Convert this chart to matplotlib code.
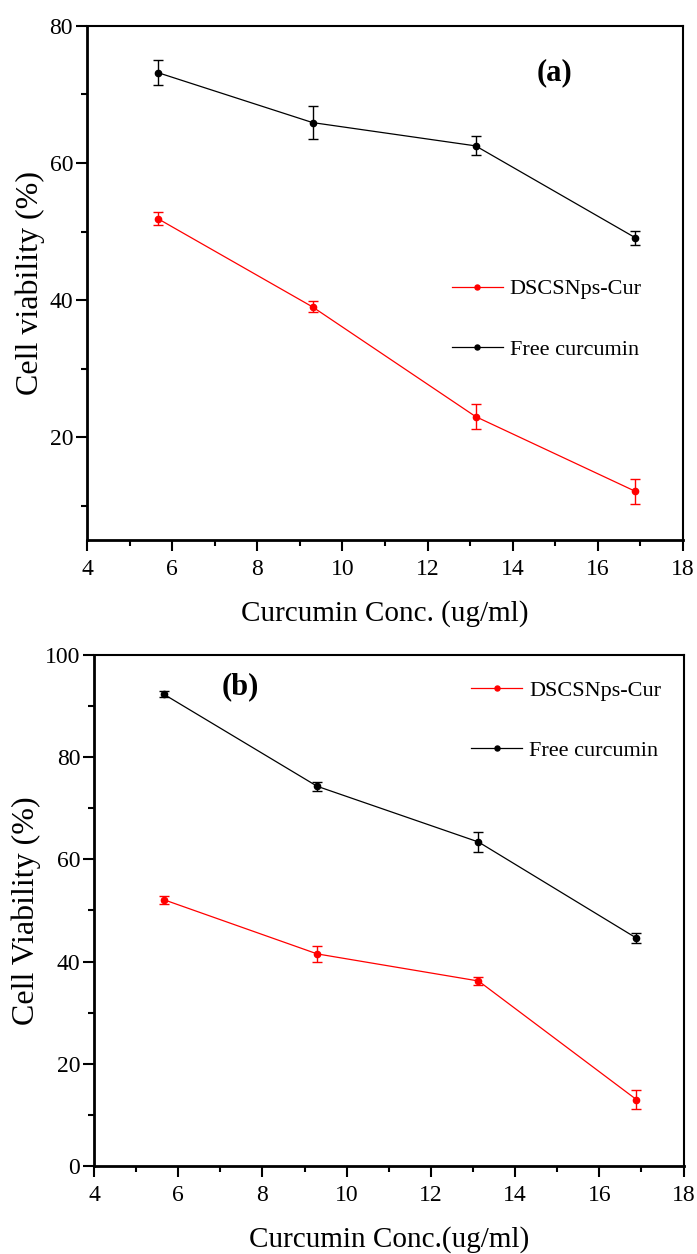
import numpy as np
import matplotlib
matplotlib.use('Agg')
import matplotlib.pyplot as plt
from matplotlib.ticker import MultipleLocator

plt.rcParams['font.family'] = ['Liberation Serif', 'DejaVu Serif']

# curcumin concentrations (ug/ml)
conc = [5.66, 9.30, 13.13, 16.88]

# panel (a)
a_free = [73.2, 65.9, 62.5, 49.1]
a_free_err = [1.8, 2.4, 1.4, 1.0]
a_nps = [51.9, 39.0, 23.0, 12.1]
a_nps_err = [1.0, 0.8, 1.8, 1.8]

# panel (b)
b_free = [92.3, 74.3, 63.4, 44.6]
b_free_err = [0.6, 0.9, 1.9, 0.9]
b_nps = [52.1, 41.5, 36.2, 13.0]
b_nps_err = [0.8, 1.6, 0.7, 1.9]

labels = ['DSCSNps-Cur', 'Free curcumin']


def draw_panel(ax, free, free_err, nps, nps_err, ylim, ylabel, xlabel, tag, tag_xy, leg_xy):
    # red series first so legend order matches
    ax.plot(conc, nps, color='red', lw=0.9, marker='o', ms=4.5, label=labels[0])
    ax.errorbar(conc, nps, yerr=nps_err, fmt='none', ecolor='red', elinewidth=1.0, capsize=3.5, capthick=1.0)
    ax.plot(conc, free, color='black', lw=0.9, marker='o', ms=4.5, label=labels[1])
    ax.errorbar(conc, free, yerr=free_err, fmt='none', ecolor='black', elinewidth=1.0, capsize=3.5, capthick=1.0)

    ax.set_xlim(4, 18)
    ax.set_ylim(*ylim)
    ax.xaxis.set_major_locator(MultipleLocator(2))
    ax.xaxis.set_minor_locator(MultipleLocator(1))
    ax.yaxis.set_major_locator(MultipleLocator(20))
    ax.yaxis.set_minor_locator(MultipleLocator(10))
    ax.tick_params(which='major', direction='out', length=8, width=1.5, labelsize=17, pad=2)
    ax.tick_params(which='minor', direction='out', length=4, width=1.5)
    ax.tick_params(top=False, right=False, which='both')
    ax.tick_params(axis='x', pad=6)
    for s in ['left', 'bottom']:
        ax.spines[s].set_linewidth(2)
    for s in ['top', 'right']:
        ax.spines[s].set_linewidth(1.5)

    ax.set_ylabel(ylabel, fontsize=23, labelpad=3)
    ax.set_xlabel(xlabel, fontsize=21, labelpad=14)
    ax.text(tag_xy[0], tag_xy[1], tag, transform=ax.transAxes, fontsize=22,
            fontweight='bold', ha='center', va='center')

    ax.legend(loc='upper left', bbox_to_anchor=leg_xy, frameon=False, fontsize=16,
              handlelength=2.3, handletextpad=0.3, labelspacing=1.8, borderpad=0,
              borderaxespad=0, numpoints=1, markerscale=0.8)


fig = plt.figure(figsize=(6.97, 12.54), dpi=100)
ax1 = fig.add_axes([0.1248, 0.5694, 0.8551, 0.4099])
ax2 = fig.add_axes([0.1349, 0.0702, 0.8458, 0.4075])

draw_panel(ax1, a_free, a_free_err, a_nps, a_nps_err, (5, 80),
           'Cell viability (%)', 'Curcumin Conc. (ug/ml)', '(a)', (0.784, 0.91), (0.612, 0.508))
draw_panel(ax2, b_free, b_free_err, b_nps, b_nps_err, (0, 100),
           'Cell Viability (%)', 'Curcumin Conc.(ug/ml)', '(b)', (0.248, 0.937), (0.64, 0.951))

fig.savefig('out.png', dpi=100)
